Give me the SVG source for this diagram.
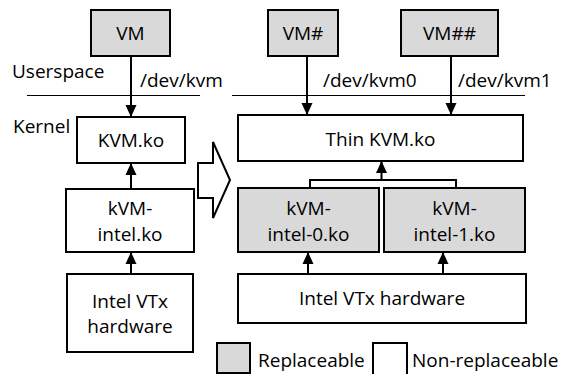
<svg xmlns="http://www.w3.org/2000/svg" width="563" height="374" viewBox="0 0 563 374">
<defs>
<marker id="ah" markerUnits="userSpaceOnUse" markerWidth="13" markerHeight="12" refX="12" refY="6" orient="auto">
<path d="M0,0.5 L12,6 L0,11.5 z" fill="#000"/>
</marker>
<style>
.box{stroke:#000;stroke-width:2;fill:#fff}
.g{fill:#d9d9d9}
.t{font-family:"Open Sans","Noto Sans","Liberation Sans",sans-serif;font-size:19px;fill:#000}
.m{text-anchor:middle}
.c{stroke:#000;stroke-width:2;fill:none}
.a{marker-end:url(#ah)}
.div{stroke:#000;stroke-width:1}
</style>
</defs>
<rect width="563" height="374" fill="#fff"/>

<g id="labels">
<text class="t" x="12" y="78">Userspace</text>
<text class="t" x="13" y="133">Kernel</text>
<text class="t" x="140" y="87">/dev/kvm</text>
<text class="t" x="323" y="87">/dev/kvm0</text>
<text class="t" x="458" y="87">/dev/kvm1</text>
<line class="div" x1="27" y1="95.5" x2="200" y2="95.5"/>
<line class="div" x1="232" y1="95.5" x2="525" y2="95.5"/>
</g>

<g id="connectors">
<line class="c a" x1="131" y1="56" x2="131" y2="117"/>
<line class="c a" x1="131" y1="189" x2="131" y2="163"/>
<line class="c a" x1="131" y1="274" x2="131" y2="252"/>
<line class="c a" x1="307" y1="56" x2="307" y2="115"/>
<line class="c a" x1="451" y1="56" x2="451" y2="115"/>
<polyline class="c" points="310,188 310,180 456,180 456,188"/>
<line class="c a" x1="381.5" y1="180" x2="381.5" y2="161"/>
<line class="c a" x1="308" y1="274" x2="308" y2="252"/>
<line class="c a" x1="443" y1="274" x2="443" y2="252"/>
</g>

<g id="bigarrow">
<polygon points="198,163 213,163 213,142 230,180 213,218 213,198 198,198" fill="#fff" stroke="#000" stroke-width="2" stroke-linejoin="miter"/>
</g>

<g id="vm">
<rect class="box g" x="91" y="10" width="79" height="46"/>
<text class="t m" x="130.5" y="40">VM</text>
</g>
<g id="kvm">
<rect class="box" x="77" y="117" width="108" height="46"/>
<text class="t m" x="131" y="147">KVM.ko</text>
</g>
<g id="kvm-intel">
<rect class="box" x="66" y="189" width="128" height="63"/>
<text class="t m" x="130" y="215">kVM-</text>
<text class="t m" x="130" y="241">intel.ko</text>
</g>
<g id="vtx-left">
<rect class="box" x="67" y="274" width="126" height="78"/>
<text class="t m" x="130" y="308">Intel VTx</text>
<text class="t m" x="130" y="333">hardware</text>
</g>

<g id="vm1">
<rect class="box g" x="268" y="10" width="70" height="46"/>
<text class="t m" x="303" y="40">VM#</text>
</g>
<g id="vm2">
<rect class="box g" x="401" y="10" width="97" height="46"/>
<text class="t m" x="449.5" y="40">VM##</text>
</g>
<g id="thin-kvm">
<rect class="box" x="238" y="115" width="285" height="46"/>
<text class="t m" x="380.5" y="146">Thin KVM.ko</text>
</g>
<g id="kvm-intel-0">
<rect class="box g" x="238" y="188" width="141" height="64"/>
<text class="t m" x="308.5" y="215">kVM-</text>
<text class="t m" x="308.5" y="241">intel-0.ko</text>
</g>
<g id="kvm-intel-1">
<rect class="box g" x="384" y="188" width="141" height="64"/>
<text class="t m" x="454.5" y="215">kVM-</text>
<text class="t m" x="454.5" y="241">intel-1.ko</text>
</g>
<g id="vtx-right">
<rect class="box" x="238" y="274" width="288" height="49"/>
<text class="t m" x="382" y="305">Intel VTx hardware</text>
</g>

<g id="legend">
<rect class="box g" x="217" y="343" width="33" height="30"/>
<text class="t" x="258" y="367">Replaceable</text>
<rect class="box" x="373" y="343" width="34" height="36"/>
<text class="t" x="412" y="367">Non-replaceable</text>
</g>
</svg>
